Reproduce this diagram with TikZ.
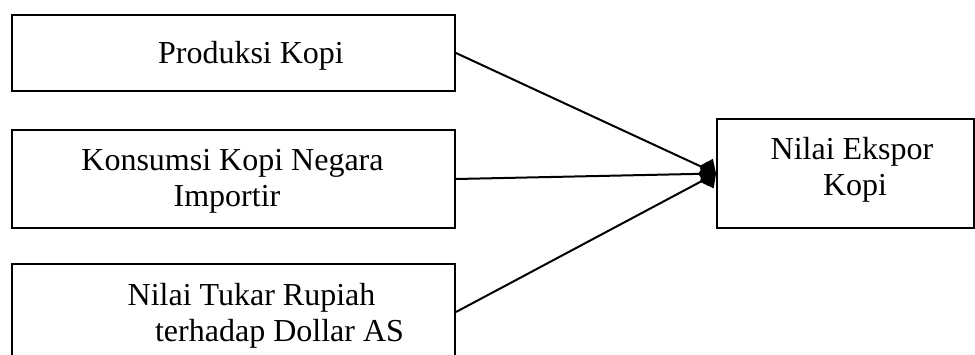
\documentclass[tikz,border=0pt]{standalone}
\usepackage{fontspec}
\setmainfont{Liberation Serif}
\usetikzlibrary{arrows.meta}
\begin{document}
\begin{tikzpicture}[x=1pt,y=-1pt,
  box/.style={draw,line width=2pt,inner sep=0pt,minimum width=443pt},
  lbl/.style={inner sep=0pt,anchor=base,font=\fontsize{32pt}{36.8pt}\selectfont},
  link/.style={line width=2pt,-{Diamond[length=18pt,width=24pt]}}]
\clip (0,0) rectangle (975,354);
\node[box,minimum height=76pt] (b1) at (233.5,53) {};
\node[box,minimum height=98pt] (b2) at (233.5,179) {};
\node[box,minimum height=96pt] (b3) at (233.5,312) {};
\node[draw,line width=2pt,inner sep=0pt,minimum width=257pt,minimum height=109pt] (out) at (845.5,173.5) {};
\node[lbl] (t1) at (251,63) {Produksi Kopi};
\node[lbl] (t2a) at (232.5,170) {Konsumsi Kopi Negara};
\node[lbl] (t2b) at (227,206) {Importir};
\node[lbl] (t3a) at (251.5,305) {Nilai Tukar Rupiah};
\node[lbl] (t3b) at (279.5,341) {terhadap Dollar AS};
\node[lbl] (t4a) at (852,159) {Nilai Ekspor};
\node[lbl] (t4b) at (855,195) {Kopi};
\draw[link] (b1.east) -- (out.west);
\draw[link] (b2.east) -- (out.west);
\draw[link] (b3.east) -- (out.west);
\end{tikzpicture}
\end{document}
